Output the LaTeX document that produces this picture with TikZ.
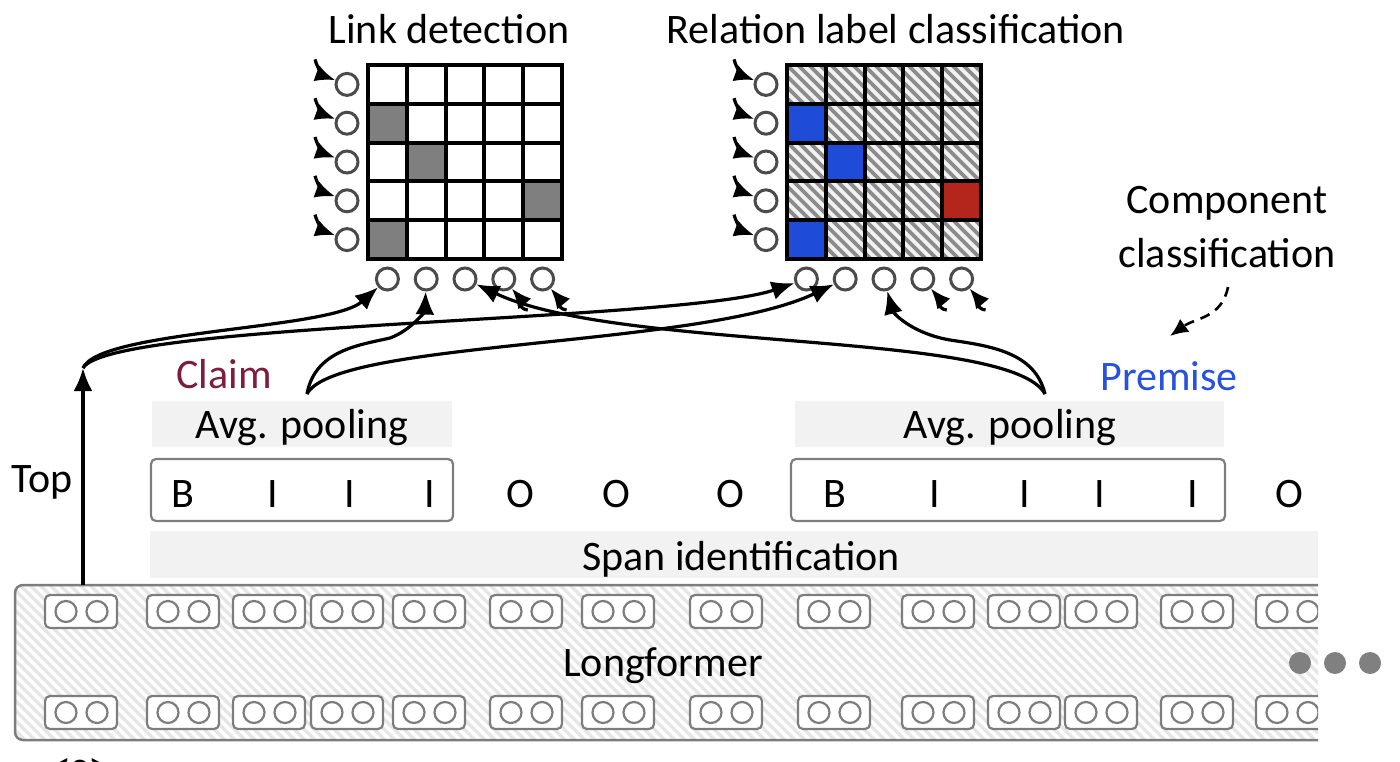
\documentclass[tikz,border=0pt]{standalone}
\usepackage{fontspec}
\setmainfont{Carlito}
\usetikzlibrary{arrows.meta,calc}
\definecolor{cellgray}{RGB}{127,127,127}
\definecolor{cellblue}{RGB}{30,75,215}
\definecolor{cellred}{RGB}{180,38,28}
\definecolor{circgray}{RGB}{75,75,75}
\definecolor{boxgray}{RGB}{125,125,125}
\definecolor{barfill}{RGB}{242,242,242}
\definecolor{hatchbg}{RGB}{242,242,242}
\definecolor{hatchln}{RGB}{140,140,140}
\definecolor{lfhatch}{RGB}{230,230,230}
\definecolor{claimc}{RGB}{125,30,62}
\definecolor{premc}{RGB}{40,82,220}
\definecolor{dotgray}{RGB}{128,128,128}
\tikzset{
  lbl/.style={anchor=base, inner sep=0pt},
  circ/.style={circle, draw=circgray, line width=3pt, minimum size=22pt, inner sep=0pt, fill=white},
  tokc/.style={circle, draw=boxgray, line width=2.2pt, minimum size=21pt, inner sep=0pt},
  tokbox/.style={rectangle, rounded corners=5pt, draw=boxgray, line width=2.2pt, fill=white, minimum width=72pt, minimum height=33pt, inner sep=0pt},
  smallarr/.style={line width=3.2pt, -{Latex[length=20pt,width=17pt]}},
  bigarr/.style={line width=3.2pt, -{Latex[length=23pt,width=19pt]}},
  gridln/.style={line width=4pt, black},
  bar/.style={fill=barfill, draw=none},
  biobox/.style={draw=boxgray, line width=2.2pt, rounded corners=5pt},
}
\begin{document}
\begin{tikzpicture}[x=1pt,y=1pt,font=\fontsize{42}{52}\selectfont]
\useasboundingbox (0,0) rectangle (1400,-762);

% ---------- titles ----------
\node[lbl] (tl) at (449,-44) {Link detection};
\node[lbl] (tr) at (896,-44) {Relation label classification};
\node[lbl] (comp1) at (1227,-214) {Component};
\node[lbl] (comp2) at (1227,-267) {classification};

% ---------- right grid hatch ----------
\begin{scope}
  \clip (787,-65) rectangle (981,-259);
  \fill[hatchbg] (787,-65) rectangle (981,-259);
  \foreach \k in {-198,-187,...,198}
    \draw[hatchln, line width=3.6pt] ({787+\k},-65) -- ++(194,-194);
\end{scope}

% ---------- filled cells ----------
\foreach \r/\c in {2/1,3/2,4/5,5/1}
  \fill[cellgray] ({368+(\c-1)*38.8},{-65-(\r-1)*38.8}) rectangle ++(38.8,-38.8);
\foreach \r/\c in {2/1,3/2,5/1}
  \fill[cellblue] ({787+(\c-1)*38.8},{-65-(\r-1)*38.8}) rectangle ++(38.8,-38.8);
\fill[cellred] ({787+4*38.8},{-65-3*38.8}) rectangle ++(38.8,-38.8);

% ---------- grid lines ----------
\foreach \gx in {368,787}{
  \foreach \i in {0,...,5}{
    \draw[gridln] ({\gx+\i*38.8},-63) -- ({\gx+\i*38.8},-261);
    \draw[gridln] ({\gx-2},{-65-\i*38.8}) -- ({\gx+196},{-65-\i*38.8});
  }
}

% ---------- circles around grids ----------
\foreach \gx/\g in {368/L,787/R}{
  \foreach \i in {1,...,5}{
    \node[circ] (\g r\i) at ({\gx-21},{-65-(\i-0.5)*38.8}) {};
    \coordinate (\g s\i) at ({\gx-53},{-65-(\i-0.5)*38.8+25});
    \draw[smallarr] (\g s\i) to[out=-75,in=160] (\g r\i);
    \node[circ] (\g c\i) at ({\gx+(\i-0.5)*38.8},-279) {};
  }
  \foreach \i in {4,5}{
    \coordinate (\g t\i) at ($(\g c\i)+(24,-31)$);
    \draw[smallarr] (\g t\i) to[out=175,in=-50] (\g c\i);
  }
}

% ---------- labels ----------
\node[lbl, text=claimc] (claim) at (224,-388) {Claim};
\node[lbl, text=premc] (prem) at (1169,-390) {Premise};

% ---------- pooling bars ----------
\fill[bar] (152,-401) rectangle (452,-447);
\fill[bar] (795,-401) rectangle (1224,-447);
\node[lbl] (pool1) at (302,-438) {Avg. pooling};
\node[lbl] (pool2) at (1010,-438) {Avg. pooling};

% ---------- BIO ----------
\draw[biobox] (151,-459) rectangle (453,-521);
\draw[biobox] (791,-459) rectangle (1225,-521);
\foreach \x/\t [count=\n] in {183/B,273/I,350/I,430/I,520/O,616/O,730/O,835/B,935/I,1025/I,1100/I,1193/I,1289/O}
  \node[lbl] (bio\n) at (\x,-507) {\t};

% ---------- span identification ----------
\fill[bar] (150,-531) rectangle (1318,-578);
\node[lbl] (span) at (741,-570) {Span identification};

% ---------- Longformer ----------
\begin{scope}
  \clip[rounded corners=8pt] (1318,-585) -- (15,-585) -- (15,-740) -- (1318,-740) -- cycle;
  \foreach \k in {-160,-150,...,1320}
    \draw[lfhatch, line width=3.5pt] (\k,-585) -- ++(155,-155);
\end{scope}
\draw[boxgray, line width=2.5pt, rounded corners=8pt] (1318,-585) -- (15,-585) -- (15,-740) -- (1318,-740);
\node[lbl] (lf) at (663,-676) {Longformer};

\begin{scope}
  \clip (0,0) rectangle (1318,-762);
  \foreach \bx [count=\n] in {45,147,233,311,393,490,582,690,798,902,988,1065,1161,1256}{
    \foreach \by/\rw in {-611.5/a,-712.5/b}{
      \node[tokbox] (tok\rw\n) at ({\bx+36},\by) {};
      \node[tokc] (tok\rw\n l) at ({\bx+21},\by) {};
      \node[tokc] (tok\rw\n r) at ({\bx+52},\by) {};
    }
  }
\end{scope}

\foreach \x [count=\n] in {1300,1335,1370}
  \fill[dotgray] (\x,-663) circle (11pt) node (dot\n) {};

\node[lbl] (sos) at (80,-780) {<s>};

% ---------- Top arrow ----------
\node[lbl] (top) at (42,-492) {Top};
\coordinate (lftop) at (83,-585);
\coordinate (topc) at (83,-368);
\draw[bigarr] (lftop) -- (topc);

% ---------- long arrows ----------
\coordinate (clm) at (307,-394);
\coordinate (prm) at (1045,-394);
\draw[bigarr] (topc) .. controls (100,-330) and (330,-330) .. (Lc1);
\draw[bigarr] (topc) .. controls (110,-322) and (680,-322) .. (Rc1);
\draw[bigarr] (clm) .. controls (315,-350) and (360,-345) .. (390,-338) .. controls (412,-330) and (425,-310) .. (Lc2);
\draw[bigarr] (clm) .. controls (335,-340) and (700,-348) .. (Rc2);
\draw[bigarr] (prm) .. controls (1035,-352) and (990,-346) .. (950,-340) .. controls (910,-333) and (893,-312) .. (Rc3);
\draw[bigarr] (prm) .. controls (1010,-330) and (620,-352) .. (Lc3);

% ---------- dashed arrow ----------
\coordinate (cc) at (1228,-287);
\coordinate (pp) at (1170,-336);
\draw[line width=2.6pt, dash pattern=on 10pt off 7pt, -{Latex[length=18pt,width=16pt]}] (cc) .. controls (1222,-318) and (1195,-318) .. (pp);
\end{tikzpicture}
\end{document}
